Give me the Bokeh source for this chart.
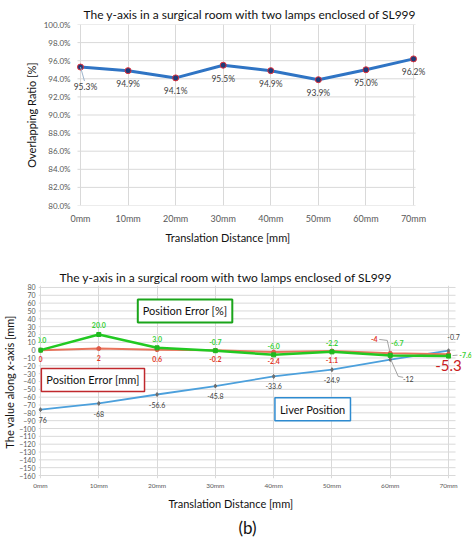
from bokeh.plotting import figure
from bokeh.layouts import column, row
from bokeh.models import FixedTicker, Range1d, Label, Title
from bokeh.embed import file_html
from bokeh.resources import INLINE

FONT = "Lato"

# ---------------- data ----------------
title_text = "The y-axis in a surgical room with two lamps enclosed of  SL999"
x_title = "Translation Distance [mm]"
dist_mm = [0, 10, 20, 30, 40, 50, 60, 70]
dist_labels = ["0mm", "10mm", "20mm", "30mm", "40mm", "50mm", "60mm", "70mm"]

# (a)
overlap_ratio = [95.3, 94.9, 94.1, 95.5, 94.9, 93.9, 95.0, 96.2]
ticks_a = [80, 82, 84, 86, 88, 90, 92, 94, 96, 98, 100]

# (b)
pos_err_pct = [0.0, 20.0, 3.0, -0.7, -6.0, -2.2, -6.7, -7.6]
pos_err_mm = [0, 2, 0.6, -0.2, -2.4, -1.1, -4, -5.3]
liver_pos = [-76, -68, -56.6, -45.8, -33.6, -24.9, -12, -0.7]
ticks_b = list(range(-160, 81, 10))

GRID = "#d9d9d9"
TICK_COLOR = "#595959"


def add_labels(fig, xs, ys, texts, dx, dy, size, color, style="normal"):
    for x, y, t, ox, oy in zip(xs, ys, texts, dx, dy):
        fig.add_layout(Label(x=x, y=y, text=t, x_offset=ox, y_offset=-oy, level="overlay",
                             text_align="center", text_baseline="middle", text_font=FONT,
                             text_font_size=size, text_color=color, text_font_style=style))


def style_axes(fig):
    for ax in (fig.xaxis, fig.yaxis):
        ax.axis_line_color = None
        ax.major_tick_line_color = None
        ax.minor_tick_line_color = None
        ax.major_tick_out = 0
        ax.major_tick_in = 0
        ax.minor_tick_out = 0
        ax.minor_tick_in = 0
        ax.major_label_text_font = FONT
        ax.major_label_text_color = TICK_COLOR
        ax.axis_label_text_font = FONT
        ax.axis_label_text_font_size = "11px"
        ax.axis_label_text_font_style = "normal"
        ax.axis_label_text_color = "#111111"


def make_title(text, size, offset, standoff, align="left"):
    return Title(text=text, align=align, offset=offset, standoff=standoff, text_font=FONT,
                 text_font_size=size, text_font_style="normal", text_color="#111111")


# ---------------- figure (a) ----------------
W = 472
XA0, XA1 = -1.68, 74.41          # frame (wider than the grid so edge labels are not clipped)
GA0, GA1 = -0.63, 70.42          # extent of the horizontal grid lines
p1 = figure(width=W, height=256, output_backend="svg", toolbar_location=None,
            x_range=Range1d(XA0, XA1), y_range=Range1d(80, 100),
            min_border_left=72, min_border_right=38, min_border_top=24, min_border_bottom=51)
p1.outline_line_color = None
p1.title = make_title(title_text, "12px", 11, 5)
p1.xaxis.ticker = FixedTicker(ticks=dist_mm)
p1.xaxis.major_label_overrides = {d: l for d, l in zip(dist_mm, dist_labels)}
p1.yaxis.ticker = FixedTicker(ticks=ticks_a)
p1.yaxis.major_label_overrides = {t: f"{t:.1f}%" for t in ticks_a}
style_axes(p1)
p1.xaxis.major_label_text_font_size = "9px"
p1.yaxis.major_label_text_font_size = "8px"
p1.yaxis.axis_label = "Overlapping Ratio [%]"
p1.xaxis.major_label_standoff = 7
p1.yaxis.major_label_standoff = 2
p1.yaxis.axis_label_standoff = 3
p1.add_layout(make_title(x_title, "11px", 93, 5), "below")
p1.xgrid.grid_line_color = GRID
p1.ygrid.grid_line_color = None
p1.segment(x0=[GA0] * len(ticks_a), y0=ticks_a, x1=[GA1] * len(ticks_a), y1=ticks_a,
           line_color=GRID, line_width=1)

p1.line(dist_mm, overlap_ratio, line_color="#2f74c4", line_width=3)
p1.scatter(dist_mm, overlap_ratio, size=6, fill_color="#1f3a78", line_color="#e0303b", line_width=1)
pxx = (XA1 - XA0) / 362.0
pxy = 20.0 / 181.0
p1.segment(x0=[dist_mm[0]], y0=[overlap_ratio[0]],
           x1=[dist_mm[0] + 4 * pxx], y1=[overlap_ratio[0] - 14 * pxy],
           line_color="#9db4cc", line_width=1)
add_labels(p1, dist_mm, overlap_ratio, [f"{v:.1f}%" for v in overlap_ratio],
           [5] + [0] * 7, [20] + [13.5] * 7, "8.5px", "#404040")

# ---------------- figure (b) ----------------
XB0, XB1 = -0.34, 73.94
GB0, GB1 = -0.34, 71.2
YB0, YB1 = -163.8, 82.5
p2 = figure(width=W, height=283, output_backend="svg", toolbar_location=None,
            x_range=Range1d(XB0, XB1), y_range=Range1d(YB0, YB1),
            min_border_left=37, min_border_right=1, min_border_top=29, min_border_bottom=59)
p2.outline_line_color = None
p2.title = make_title(title_text, "12px", 21, 1)
p2.xaxis.ticker = FixedTicker(ticks=dist_mm)
p2.xaxis.major_label_overrides = {d: l for d, l in zip(dist_mm, dist_labels)}
p2.yaxis.ticker = FixedTicker(ticks=ticks_b)
style_axes(p2)
p2.xaxis.major_label_text_font_size = "6.5px"
p2.yaxis.major_label_text_font_size = "7px"
p2.yaxis.axis_label = "The value along x-axis [mm]"
p2.xaxis.major_label_standoff = 3
p2.yaxis.major_label_standoff = 3
p2.yaxis.axis_label_standoff = 0
p2.add_layout(make_title(x_title, "11px", 130, 7), "below")
p2.add_layout(make_title("(b)", "17px", 200, 3), "below")
p2.xgrid.grid_line_color = GRID
p2.ygrid.grid_line_color = None
p2.segment(x0=[GB0] * len(ticks_b), y0=ticks_b, x1=[GB1] * len(ticks_b), y1=ticks_b,
           line_color=GRID, line_width=1)

GREEN, RED, BLUE = "#22c922", "#e9745c", "#4ca0dc"
p2.line(dist_mm, liver_pos, line_color=BLUE, line_width=1.8)
p2.scatter(dist_mm, liver_pos, size=4, marker="diamond", fill_color="#6d6d6d", line_color="#6d6d6d")
p2.line(dist_mm, pos_err_mm, line_color=RED, line_width=2)
p2.scatter(dist_mm, pos_err_mm, size=4, fill_color="#e05a48", line_color="#e05a48")
p2.line(dist_mm, pos_err_pct, line_color=GREEN, line_width=2.5)
p2.scatter(dist_mm, pos_err_pct, size=4, marker="square", fill_color="#1fb81f", line_color="#1fb81f")

# leader lines (pixel offsets converted to data units)
bx = (XB1 - XB0) / 434.0
by = (YB1 - YB0) / 195.0
lead_x0 = [dist_mm[6] - 11 * bx, dist_mm[6] - 3 * bx, dist_mm[6] + 1 * bx, dist_mm[6] + 8 * bx, dist_mm[7] + 4 * bx]
lead_y0 = [pos_err_mm[6] + 14 * by, pos_err_mm[6] + 13 * by, liver_pos[6] - 1 * by, liver_pos[6] - 17 * by, pos_err_pct[7] + 0.5 * by]
lead_x1 = [dist_mm[6] - 3 * bx, dist_mm[6] - 0.5 * bx, dist_mm[6] + 8 * bx, dist_mm[6] + 13 * bx, dist_mm[7] + 9 * bx]
lead_y1 = [pos_err_mm[6] + 13 * by, pos_err_mm[6] + 2 * by, liver_pos[6] - 17 * by, liver_pos[6] - 18 * by, pos_err_pct[7] + 1 * by]
p2.segment(lead_x0, lead_y0, lead_x1, lead_y1, line_color="#8c8c8c", line_width=0.8)

add_labels(p2, dist_mm, pos_err_pct, [f"{v:.1f}" for v in pos_err_pct],
           [1, 0, 0, 0, 0, 0, 7, 17], [-10, -9, -9, -9, -9, -9, -12, -1], "7px", "#39d039", "bold")
add_labels(p2, dist_mm[:7], pos_err_mm[:7], [f"{v:g}" for v in pos_err_mm[:7]],
           [0, 0, 0, 0, 0, 0, -16], [9, 9, 9, 9, 9, 9, -14], "7px", "#e23a2a", "bold")
add_labels(p2, dist_mm[7:], pos_err_mm[7:], [f"{v:g}" for v in pos_err_mm[7:]],
           [0], [11], "15px", "#c8201e")
add_labels(p2, dist_mm, liver_pos, [f"{v:g}" for v in liver_pos],
           [1, 0, 0, 0, 0, 0, 18, 5], [10, 11, 11, 10, 10, 10, 19, -14], "7px", "#404040")

# series name boxes
box_style = dict(text_align="center", text_baseline="middle", text_font=FONT, text_font_size="11px",
                 text_color="#111111", background_fill_color="white", padding=5, level="overlay")
p2.add_layout(Label(x=24.8, y=50, text="Position Error [%]", border_line_color="#1aa51a",
                    border_line_width=2, **box_style))
p2.add_layout(Label(x=9.0, y=-38, text="Position Error [mm]", border_line_color="#c0282d",
                    border_line_width=1.5, **box_style))
p2.add_layout(Label(x=46.7, y=-75.3, text="Liver Position", border_line_color="#2e8bd0",
                    border_line_width=1.5, **box_style))

layout = column(row(p1), row(p2), spacing=0)
open("out.html", "w").write(file_html(layout, INLINE))
